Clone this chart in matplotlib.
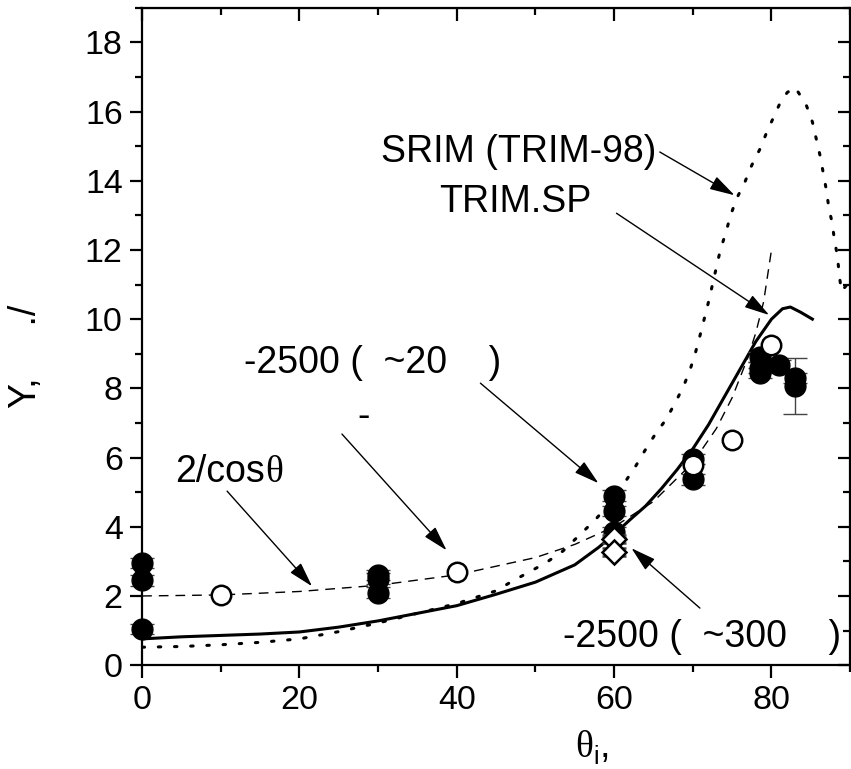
import numpy as np
import matplotlib
matplotlib.use("Agg")
import matplotlib.pyplot as plt
from matplotlib.ticker import MultipleLocator

# TRIM.SP (solid)
trimsp_x = [0, 5, 10, 15, 20, 25, 30, 35, 40, 45, 50, 55, 58, 60, 62, 64, 66, 68, 70, 72, 74, 76, 78,
            80, 81.4, 82.4, 83.7, 85.2]
trimsp_y = [0.76, 0.82, 0.86, 0.9, 0.96, 1.1, 1.28, 1.5, 1.72, 2.05, 2.4, 2.9, 3.4, 3.78, 4.2, 4.6,
            5.1, 5.65, 6.25, 6.95, 7.75, 8.55, 9.35, 10.0, 10.3, 10.35, 10.2, 10.0]

# SRIM (TRIM-98) (dotted)
srim_x = [0, 5, 10, 15, 20, 25, 30, 35, 40, 45, 47, 49.1, 51.4, 53.5, 55.6, 57.6, 59.5, 61.1, 62.6,
          63.9, 65.3, 66.6, 67.8, 68.8, 69.6, 70.3, 71, 72, 72.9, 73.5, 74.2, 74.8, 75.6, 76.6, 77.5,
          78.5, 79.4, 80.4, 81.1, 82, 83, 84.4, 85.2, 85.7, 86.2, 86.6, 87, 87.3, 87.7, 88, 88.4, 88.6,
          88.9, 89.6]
srim_y = [0.52, 0.54, 0.59, 0.66, 0.76, 0.97, 1.22, 1.5, 1.78, 2.15, 2.42, 2.68, 2.97, 3.3, 3.76,
          4.2, 4.7, 5.2, 5.7, 6.2, 6.7, 7.1, 7.6, 8.05, 8.5, 9.0, 9.6, 10.5, 11.4, 12.0, 12.5, 13.0,
          13.5, 13.95, 14.45, 14.9, 15.4, 15.9, 16.25, 16.55, 16.7, 16.2, 15.7, 15.2, 14.7, 14.2,
          13.7, 13.2, 12.8, 12.3, 11.8, 11.3, 10.8, 11.0]

# 2/cos(theta) (dashed)
cos_x = [0, 10, 20, 30, 40, 50, 55, 60, 65, 70, 73, 75, 77, 78, 79, 80]
cos_y = [2.0, 2.03, 2.13, 2.31, 2.61, 3.11, 3.49, 4.0, 4.73, 5.85, 6.84, 7.73, 8.89, 9.6, 10.5, 12.0]

# measured points
filled_x = [0, 0, 0, 30, 30, 30, 60, 60, 60, 70, 70, 78.6, 78.6, 78.6, 81, 83, 83]
filled_y = [2.95, 2.45, 1.05, 2.6, 2.5, 2.1, 4.9, 4.45, 3.85, 5.95, 5.37, 8.9, 8.6, 8.45, 8.67, 8.3, 8.07]
filled_err = [0.15, 0.15, 0.15, 0.15, 0.15, 0.15, 0.15, 0.15, 0.15, 0.15, 0.15, 0.15, 0.15, 0.15, 0.15, 0.15, 0.81]

open_x = [10, 40, 70, 75, 80]
open_y = [2.03, 2.7, 5.78, 6.52, 9.25]

diamond_x = [60, 60]
diamond_y = [3.64, 3.27]
diamond_err = [0.12, 0.12]

plt.rcParams["font.family"] = ["Liberation Sans", "DejaVu Sans"]
fig = plt.figure(figsize=(8.51, 7.69), dpi=100)
ax = fig.add_axes([0.167, 0.135, 0.832, 0.855])
FS = 27
TS = 24.5

ax.plot(srim_x, srim_y, color="k", lw=2.2, linestyle=(0, (0.8, 4.5)), dash_capstyle="round", zorder=2)
ax.plot(trimsp_x, trimsp_y, color="k", lw=2.2, zorder=2)
ax.plot(cos_x, cos_y, color="k", lw=1.0, linestyle=(0, (7, 5)), zorder=2)

eb = ax.errorbar(filled_x, filled_y, yerr=filled_err, fmt="o", ms=15, mfc="k", mec="k",
                 ecolor="#444444", elinewidth=1, capsize=8.5, capthick=1, zorder=3)
for art in eb.lines[0:1] + tuple(eb.lines[1]) + tuple(eb.lines[2]):
    art.set_clip_on(False)
ax.errorbar(diamond_x, diamond_y, yerr=diamond_err, fmt="D", ms=12, mfc="white", mec="k", mew=1.8,
            ecolor="#444444", elinewidth=1, capsize=8.5, capthick=1, zorder=4)
ax.plot(open_x, open_y, "o", ms=14, mfc="white", mec="k", mew=1.8, zorder=5)

ax.set_xlim(0, 90)
ax.set_ylim(0, 19)
ax.xaxis.set_major_locator(MultipleLocator(20))
ax.xaxis.set_minor_locator(MultipleLocator(10))
ax.yaxis.set_major_locator(MultipleLocator(2))
ax.yaxis.set_minor_locator(MultipleLocator(1))
for s in ax.spines.values():
    s.set_linewidth(1.6)
ax.tick_params(which="both", direction="out", top=False, right=False, labelsize=TS, width=1.6)
ax.tick_params(which="major", length=9, pad=5)
ax.tick_params(which="minor", length=5)
# inward ticks on top/right
sec = ax.secondary_xaxis("top")
sec.xaxis.set_major_locator(MultipleLocator(20))
sec.xaxis.set_minor_locator(MultipleLocator(10))
sec.tick_params(which="both", direction="in", labeltop=False, width=1.6)
sec.tick_params(which="major", length=9)
sec.tick_params(which="minor", length=5)
secy = ax.secondary_yaxis("right")
secy.yaxis.set_major_locator(MultipleLocator(2))
secy.yaxis.set_minor_locator(MultipleLocator(1))
secy.tick_params(which="both", direction="in", labelright=False, width=1.6)
secy.tick_params(which="major", length=9)
secy.tick_params(which="minor", length=5)

# axis labels
fig.text(26 / 851, 1 - 356 / 769, "Y,     ./", fontsize=FS, rotation=90, ha="center", va="center")
ax.text(55.1, -2.66, "θ", fontsize=FS, family="Liberation Serif", ha="left", va="baseline", clip_on=False)
ax.text(57.3, -2.86, "i", fontsize=18, ha="left", va="baseline", clip_on=False)
ax.text(58.2, -2.66, ",", fontsize=FS, ha="left", va="baseline", clip_on=False)

arrow = dict(arrowstyle="-|>,head_length=0.7,head_width=0.2", color="k", lw=1.0,
             shrinkA=0, shrinkB=0, mutation_scale=22)

ax.text(30.4, 14.54, "SRIM (TRIM-98)", fontsize=FS, ha="left", va="baseline")
ax.annotate("", xy=(75.3, 13.58), xytext=(65.8, 14.83), arrowprops=arrow)
ax.text(37.7, 13.09, "TRIM.SP", fontsize=FS, ha="left", va="baseline")
ax.annotate("", xy=(79.7, 10.12), xytext=(60.3, 13.06), arrowprops=arrow)
ax.text(12.9, 8.44, "-2500 (  ~20    )", fontsize=FS, ha="left", va="baseline")
ax.annotate("", xy=(58.0, 5.26), xytext=(43.0, 8.15), arrowprops=arrow)
ax.text(28.2, 6.88, "-", fontsize=FS, ha="center", va="baseline")
ax.annotate("", xy=(38.7, 3.32), xytext=(25.4, 6.68), arrowprops=arrow)
t = ax.text(4.2, 5.29, "2/cos", fontsize=FS, ha="left", va="baseline")
ax.annotate("θ", xy=(1, 0), xycoords=t, xytext=(0, 0), textcoords="offset points",
            fontsize=FS, family="Liberation Serif", ha="left", va="bottom")
ax.annotate("", xy=(21.6, 2.28), xytext=(10.8, 5.03), arrowprops=arrow)
ax.text(53.5, 0.52, "-2500 (  ~300    )", fontsize=FS, ha="left", va="baseline")
ax.annotate("", xy=(62.2, 3.38), xytext=(70.9, 1.65), arrowprops=arrow)

fig.savefig("out.png", dpi=100)
